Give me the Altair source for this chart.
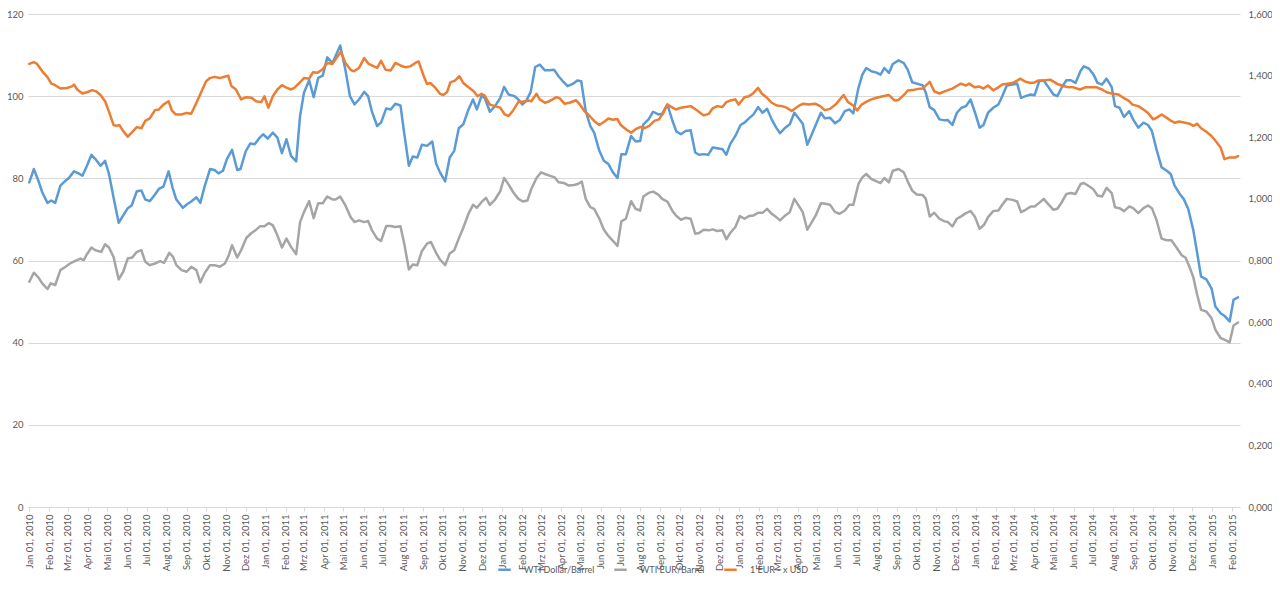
import altair as alt
import pandas as pd

START = "2010-01-01"

# WTI in US dollars per barrel (left axis): days since Jan 1, 2010 / value
usd_days = [0, 7, 14, 20, 28, 34, 40, 48, 56, 61, 69, 76, 82, 89, 96, 102, 110, 117, 123, 130, 138, 145, 152, 158, 166, 173, 179, 186, 194, 200, 207, 215, 221, 227, 237, 243, 250, 258, 264, 271, 279, 286, 292, 299, 305, 313, 321, 326, 334, 341, 348, 355, 361, 368, 376, 383, 390, 397, 404, 412, 418, 424, 432, 439, 446, 453, 460, 468, 480, 488, 495, 502, 509, 517, 523, 529, 537, 543, 551, 558, 565, 573, 579, 586, 592, 599, 606, 614, 622, 628, 634, 642, 649, 656, 663, 670, 678, 685, 691, 698, 703, 711, 719, 727, 733, 740, 749, 755, 761, 767, 774, 781, 788, 796, 803, 810, 817, 825, 831, 839, 846, 852, 859, 866, 872, 880, 887, 894, 901, 908, 914, 921, 929, 936, 943, 948, 956, 963, 971, 977, 985, 993, 999, 1006, 1013, 1021, 1028, 1034, 1041, 1048, 1055, 1062, 1070, 1076, 1082, 1090, 1098, 1104, 1111, 1118, 1125, 1132, 1139, 1146, 1153, 1159, 1167, 1174, 1181, 1187, 1194, 1201, 1208, 1214, 1222, 1228, 1236, 1244, 1251, 1259, 1266, 1272, 1280, 1286, 1292, 1300, 1308, 1314, 1320, 1327, 1333, 1342, 1350, 1356, 1363, 1370, 1379, 1384, 1390, 1397, 1405, 1413, 1418, 1425, 1432, 1439, 1446, 1453, 1460, 1467, 1473, 1480, 1488, 1496, 1502, 1509, 1518, 1525, 1531, 1538, 1546, 1552, 1559, 1566, 1574, 1581, 1587, 1594, 1601, 1608, 1615, 1623, 1628, 1636, 1643, 1649, 1656, 1663, 1671, 1676, 1683, 1690, 1698, 1704, 1712, 1720, 1727, 1733, 1740, 1748, 1756, 1762, 1768, 1776, 1782, 1789, 1797, 1803, 1809, 1817, 1825, 1831, 1839, 1845, 1853, 1859, 1866]
usd_vals = [79.03, 82.26, 79.43, 76.61, 74.03, 74.6, 74.03, 78.22, 79.43, 80.08, 81.69, 81.21, 80.64, 83.06, 85.72, 84.68, 83.06, 84.27, 81.05, 75.4, 69.19, 70.97, 72.74, 73.39, 76.85, 77.02, 74.84, 74.44, 76.05, 77.42, 77.98, 81.69, 77.82, 74.84, 72.82, 73.63, 74.35, 75.4, 74.03, 78.22, 82.26, 82.02, 81.21, 81.85, 84.68, 86.94, 82.02, 82.26, 86.53, 88.47, 88.31, 89.76, 90.73, 89.68, 91.13, 89.92, 86.13, 89.52, 85.48, 84.11, 95.16, 100.81, 103.87, 99.76, 104.44, 105.0, 109.44, 108.06, 112.34, 106.45, 100.0, 97.98, 99.19, 101.05, 100.0, 96.21, 92.74, 93.55, 97.02, 96.77, 98.14, 97.74, 90.73, 83.06, 85.32, 85.08, 88.15, 87.9, 88.95, 83.63, 81.45, 79.27, 85.08, 86.69, 92.18, 93.15, 96.77, 99.19, 96.77, 100.0, 99.6, 96.21, 97.58, 99.6, 102.26, 100.4, 100.0, 99.19, 97.98, 98.79, 101.05, 107.1, 107.66, 106.29, 106.29, 106.45, 104.84, 103.39, 102.42, 102.98, 103.79, 103.63, 96.37, 92.74, 91.13, 86.69, 84.27, 83.47, 81.45, 80.08, 85.89, 85.89, 90.32, 88.95, 89.11, 93.15, 94.35, 96.21, 95.56, 95.72, 97.98, 93.95, 91.37, 90.73, 91.53, 91.69, 86.29, 85.73, 85.89, 85.73, 87.5, 87.34, 87.1, 85.73, 88.31, 90.32, 92.98, 93.55, 94.6, 95.56, 97.34, 95.97, 96.93, 94.35, 92.34, 90.97, 92.34, 93.15, 95.97, 94.76, 93.31, 88.15, 90.73, 92.98, 95.97, 94.6, 94.76, 93.39, 94.19, 96.37, 96.77, 95.81, 102.02, 105.24, 106.85, 106.05, 105.73, 105.24, 106.85, 105.65, 107.82, 108.71, 108.06, 106.45, 103.39, 103.06, 102.66, 100.81, 97.34, 96.61, 94.35, 94.11, 94.19, 92.98, 95.97, 97.18, 97.58, 99.19, 95.97, 92.34, 92.98, 95.97, 97.18, 97.98, 100.0, 102.58, 102.82, 103.06, 99.6, 100.0, 100.4, 100.24, 103.63, 103.79, 102.02, 100.4, 100.0, 102.18, 103.87, 103.87, 103.23, 106.21, 107.26, 106.69, 105.24, 103.23, 102.82, 104.27, 102.18, 97.58, 97.18, 94.92, 96.37, 94.35, 92.34, 93.55, 92.98, 91.53, 87.1, 82.66, 81.85, 81.05, 78.22, 76.21, 75.0, 72.58, 67.34, 61.69, 56.05, 55.4, 53.23, 48.79, 47.18, 46.53, 45.16, 50.4, 51.05]

# WTI in euros per barrel (left axis)
eur_days = [0, 7, 14, 20, 28, 33, 40, 48, 56, 63, 71, 79, 84, 89, 96, 102, 111, 117, 123, 130, 138, 145, 152, 159, 166, 173, 179, 186, 194, 202, 208, 216, 222, 227, 235, 243, 250, 258, 264, 271, 279, 286, 294, 302, 308, 313, 321, 327, 335, 343, 349, 356, 363, 370, 376, 383, 390, 397, 404, 412, 418, 424, 432, 439, 446, 453, 460, 468, 473, 480, 488, 496, 502, 509, 517, 523, 529, 537, 543, 551, 558, 565, 573, 579, 586, 592, 599, 606, 614, 620, 628, 634, 642, 649, 656, 663, 670, 678, 685, 691, 698, 705, 711, 719, 727, 733, 740, 747, 755, 762, 769, 775, 783, 790, 796, 803, 811, 817, 825, 833, 841, 847, 853, 859, 866, 872, 880, 887, 894, 901, 908, 914, 921, 929, 936, 943, 948, 956, 963, 971, 977, 985, 993, 999, 1006, 1013, 1021, 1028, 1034, 1041, 1049, 1055, 1062, 1070, 1076, 1082, 1090, 1097, 1104, 1111, 1118, 1125, 1132, 1139, 1146, 1153, 1159, 1167, 1174, 1181, 1187, 1194, 1201, 1208, 1214, 1222, 1229, 1236, 1244, 1251, 1259, 1266, 1272, 1280, 1286, 1292, 1300, 1308, 1314, 1320, 1327, 1333, 1342, 1350, 1356, 1363, 1370, 1379, 1384, 1390, 1397, 1405, 1413, 1418, 1425, 1432, 1439, 1446, 1453, 1460, 1467, 1474, 1480, 1488, 1496, 1502, 1509, 1518, 1525, 1531, 1538, 1546, 1552, 1559, 1566, 1574, 1581, 1587, 1594, 1601, 1608, 1615, 1623, 1628, 1636, 1643, 1649, 1656, 1663, 1671, 1676, 1683, 1690, 1698, 1704, 1712, 1720, 1727, 1733, 1740, 1748, 1756, 1763, 1771, 1779, 1785, 1791, 1797, 1803, 1809, 1817, 1825, 1831, 1839, 1845, 1853, 1859, 1866]
eur_vals = [54.84, 57.02, 55.89, 54.44, 53.06, 54.44, 54.03, 57.66, 58.47, 59.27, 59.92, 60.48, 60.08, 61.53, 63.15, 62.5, 62.1, 63.95, 63.15, 60.89, 55.4, 57.26, 60.48, 60.73, 62.1, 62.5, 59.68, 58.87, 59.27, 59.84, 59.44, 61.85, 60.89, 58.87, 57.66, 57.26, 58.47, 57.66, 54.68, 57.02, 58.87, 58.87, 58.47, 59.27, 61.29, 63.71, 60.73, 62.5, 65.48, 66.69, 67.34, 68.31, 68.31, 69.11, 68.55, 66.13, 63.15, 65.32, 63.31, 61.53, 69.35, 71.77, 74.44, 70.32, 73.95, 73.95, 75.56, 74.84, 74.84, 75.56, 73.39, 70.56, 69.35, 69.76, 69.35, 69.6, 67.34, 65.32, 64.76, 68.39, 68.39, 68.15, 68.31, 63.95, 57.82, 59.03, 58.87, 62.26, 64.11, 64.52, 61.85, 60.24, 58.87, 61.69, 62.5, 65.32, 67.98, 71.37, 73.55, 72.82, 74.19, 75.24, 73.55, 74.84, 76.85, 80.08, 78.47, 76.61, 75.0, 74.35, 74.6, 77.42, 80.08, 81.45, 81.05, 80.65, 80.24, 79.03, 78.87, 78.23, 78.39, 78.63, 79.19, 75.0, 72.98, 72.58, 70.16, 67.5, 65.97, 64.76, 63.55, 69.52, 70.16, 74.44, 72.58, 72.18, 75.56, 76.45, 76.77, 76.05, 75.0, 74.35, 72.02, 70.81, 69.92, 70.4, 70.16, 66.53, 66.69, 67.5, 67.34, 67.58, 67.18, 67.34, 65.16, 66.69, 68.15, 70.81, 70.16, 70.81, 70.97, 71.61, 71.61, 72.58, 71.37, 70.56, 69.76, 70.97, 71.77, 75.0, 73.55, 71.77, 67.5, 69.35, 70.97, 73.95, 73.79, 73.55, 71.77, 71.37, 72.18, 73.55, 73.55, 78.63, 80.24, 81.05, 79.84, 79.27, 78.87, 80.08, 79.03, 81.85, 82.26, 81.45, 79.27, 77.02, 76.05, 75.97, 75.0, 70.73, 71.61, 70.16, 69.52, 69.35, 68.31, 70.16, 70.81, 71.53, 72.02, 70.56, 67.74, 68.71, 70.56, 72.02, 72.18, 73.55, 75.0, 74.76, 74.35, 71.77, 72.34, 73.15, 73.15, 74.03, 75.0, 73.55, 72.34, 72.58, 74.19, 76.21, 76.45, 76.21, 78.63, 78.87, 78.06, 77.26, 75.81, 75.56, 77.66, 76.37, 72.98, 72.74, 72.02, 73.15, 72.74, 71.53, 72.74, 73.39, 72.74, 69.92, 65.32, 64.92, 64.92, 63.15, 61.29, 60.65, 58.47, 55.89, 51.61, 47.98, 47.58, 45.97, 43.15, 41.13, 40.73, 40.08, 44.19, 44.92]

# 1 EUR in USD (right axis)
fx_days = [0, 7, 12, 20, 28, 34, 40, 48, 58, 66, 69, 74, 82, 89, 97, 103, 110, 117, 123, 130, 135, 139, 145, 152, 158, 166, 173, 179, 186, 194, 200, 207, 215, 220, 226, 235, 243, 250, 258, 266, 273, 279, 286, 294, 304, 307, 312, 319, 327, 335, 343, 350, 358, 363, 369, 376, 383, 390, 396, 404, 409, 417, 424, 432, 438, 445, 453, 460, 468, 481, 488, 496, 501, 509, 517, 524, 532, 537, 543, 550, 558, 565, 573, 581, 588, 596, 601, 609, 614, 619, 627, 634, 639, 645, 650, 657, 664, 670, 678, 686, 692, 698, 703, 711, 719, 727, 734, 740, 747, 755, 762, 770, 775, 783, 788, 796, 803, 814, 819, 826, 834, 844, 849, 857, 865, 872, 880, 888, 894, 901, 908, 913, 921, 929, 936, 944, 949, 957, 965, 972, 978, 985, 993, 998, 1006, 1013, 1021, 1029, 1036, 1041, 1049, 1055, 1062, 1070, 1076, 1082, 1090, 1095, 1104, 1111, 1118, 1125, 1131, 1139, 1146, 1154, 1162, 1169, 1177, 1187, 1195, 1203, 1213, 1221, 1228, 1236, 1246, 1257, 1264, 1272, 1278, 1285, 1292, 1300, 1308, 1318, 1327, 1336, 1342, 1351, 1356, 1364, 1372, 1379, 1390, 1397, 1405, 1413, 1418, 1425, 1433, 1438, 1446, 1451, 1459, 1466, 1473, 1480, 1488, 1496, 1502, 1510, 1518, 1525, 1530, 1538, 1546, 1552, 1557, 1566, 1576, 1587, 1594, 1602, 1612, 1622, 1630, 1639, 1648, 1656, 1663, 1671, 1681, 1689, 1697, 1703, 1712, 1720, 1727, 1735, 1740, 1748, 1756, 1763, 1768, 1775, 1784, 1791, 1797, 1803, 1809, 1817, 1825, 1832, 1839, 1845, 1852, 1861, 1866]
fx_vals = [1.438, 1.444, 1.438, 1.414, 1.395, 1.374, 1.369, 1.358, 1.360, 1.365, 1.371, 1.355, 1.342, 1.346, 1.353, 1.349, 1.337, 1.317, 1.283, 1.240, 1.237, 1.240, 1.220, 1.202, 1.215, 1.233, 1.229, 1.253, 1.261, 1.288, 1.290, 1.306, 1.317, 1.287, 1.274, 1.274, 1.279, 1.276, 1.312, 1.349, 1.382, 1.392, 1.396, 1.392, 1.398, 1.400, 1.366, 1.355, 1.323, 1.330, 1.328, 1.317, 1.314, 1.333, 1.296, 1.333, 1.355, 1.369, 1.362, 1.355, 1.360, 1.376, 1.392, 1.390, 1.411, 1.409, 1.421, 1.441, 1.438, 1.478, 1.441, 1.419, 1.414, 1.425, 1.457, 1.438, 1.430, 1.425, 1.448, 1.419, 1.417, 1.441, 1.433, 1.427, 1.430, 1.441, 1.446, 1.398, 1.373, 1.376, 1.360, 1.341, 1.337, 1.347, 1.378, 1.384, 1.398, 1.376, 1.362, 1.349, 1.333, 1.341, 1.335, 1.306, 1.301, 1.296, 1.274, 1.269, 1.287, 1.315, 1.315, 1.319, 1.317, 1.341, 1.323, 1.312, 1.317, 1.330, 1.326, 1.309, 1.312, 1.320, 1.309, 1.285, 1.269, 1.253, 1.240, 1.251, 1.261, 1.257, 1.259, 1.240, 1.226, 1.215, 1.226, 1.234, 1.229, 1.237, 1.253, 1.258, 1.276, 1.306, 1.296, 1.290, 1.296, 1.298, 1.301, 1.290, 1.279, 1.271, 1.276, 1.294, 1.301, 1.298, 1.314, 1.319, 1.323, 1.306, 1.330, 1.333, 1.344, 1.360, 1.341, 1.328, 1.312, 1.303, 1.301, 1.296, 1.285, 1.301, 1.309, 1.306, 1.309, 1.301, 1.288, 1.292, 1.309, 1.337, 1.314, 1.303, 1.287, 1.306, 1.315, 1.323, 1.328, 1.333, 1.337, 1.319, 1.321, 1.339, 1.352, 1.353, 1.357, 1.358, 1.380, 1.349, 1.342, 1.349, 1.353, 1.358, 1.368, 1.374, 1.368, 1.374, 1.362, 1.365, 1.358, 1.368, 1.352, 1.362, 1.371, 1.374, 1.376, 1.384, 1.390, 1.380, 1.376, 1.378, 1.384, 1.384, 1.387, 1.373, 1.368, 1.363, 1.362, 1.355, 1.362, 1.362, 1.362, 1.355, 1.346, 1.342, 1.339, 1.328, 1.319, 1.306, 1.301, 1.290, 1.279, 1.258, 1.263, 1.274, 1.263, 1.253, 1.247, 1.251, 1.247, 1.244, 1.237, 1.244, 1.229, 1.218, 1.204, 1.186, 1.167, 1.129, 1.134, 1.134, 1.139]

SERIES = ["WTI Dollar/Barrel", "WTI EUR/Barrel", "1 EUR - x USD"]
COLORS = ["#5B9BD5", "#A5A5A5", "#ED7D31"]
MONTHS_DE = ["Jan", "Feb", "Mrz", "Apr", "Mai", "Jun", "Jul", "Aug", "Sep", "Okt", "Nov", "Dez"]
LEFT_TICKS = [0, 20, 40, 60, 80, 100, 120]
RIGHT_TICKS = [0, 0.2, 0.4, 0.6, 0.8, 1.0, 1.2, 1.4, 1.6]


def frame(days, vals, name):
    d = pd.Timestamp(START) + pd.to_timedelta(days, unit="D")
    return pd.DataFrame({"date": d.strftime("%Y-%m-%d"), "value": vals, "series": name})


df = pd.concat([
    frame(usd_days, usd_vals, SERIES[0]),
    frame(eur_days, eur_vals, SERIES[1]),
    frame(fx_days, fx_vals, SERIES[2]),
], ignore_index=True)

month_ticks = [alt.DateTime(year=y, month=m, date=1, utc=True)
               for y in range(2010, 2016) for m in range(1, 13) if y < 2015 or m <= 2]

months_js = "[" + ",".join("'%s'" % m for m in MONTHS_DE) + "]"
x_axis = alt.Axis(
    values=month_ticks,
    labelExpr=months_js + "[utcmonth(datum.value)] + ' 01, ' + utcyear(datum.value)",
    labelAngle=270, labelOverlap=False, labelFontSize=9.5, labelColor="#595959",
    labelPadding=3, tickSize=4, tickColor="#D9D9D9", domainColor="#D9D9D9",
    grid=False, title=None,
)
x_enc = alt.X(
    "date:T",
    scale=alt.Scale(type="utc", domain=[alt.DateTime(year=2009, month=12, date=30, utc=True),
                                        alt.DateTime(year=2015, month=2, date=13, utc=True)]),
    axis=x_axis,
)

color = alt.Color(
    "series:N",
    scale=alt.Scale(domain=SERIES, range=COLORS),
    legend=alt.Legend(
        orient="none", legendX=469, legendY=548, direction="horizontal", title=None,
        symbolType="stroke", symbolSize=156, symbolStrokeWidth=2.5,
        labelFontSize=9, labelColor="#595959", columnPadding=14, labelOffset=12,
        padding=0,
    ),
)

left = alt.Chart(df).transform_filter(
    alt.FieldOneOfPredicate(field="series", oneOf=SERIES[:2])
).mark_line(strokeWidth=2.5, strokeJoin="round", strokeCap="round").encode(
    x=x_enc,
    y=alt.Y("value:Q", scale=alt.Scale(domain=[0, 120]),
            axis=alt.Axis(values=LEFT_TICKS, grid=True, gridColor="#D9D9D9", domain=False,
                          ticks=False, labelColor="#595959", labelFontSize=9.5,
                          labelPadding=5, title=None)),
    color=color,
)

right = alt.Chart(df).transform_filter(
    alt.datum.series == SERIES[2]
).mark_line(strokeWidth=2.5, strokeJoin="round", strokeCap="round").encode(
    x=x_enc,
    y=alt.Y("value:Q", scale=alt.Scale(domain=[0, 1.6]),
            axis=alt.Axis(orient="right", values=RIGHT_TICKS, grid=False, domain=False,
                          ticks=False, labelColor="#595959", labelFontSize=9.5,
                          labelPadding=8, title=None,
                          labelExpr="replace(format(datum.value, '.3f'), '.', ',')")),
    color=color,
)

chart = alt.layer(left, right).resolve_scale(y="independent").properties(
    width=1212, height=493,
    padding={"left": 20, "top": 6, "right": 32, "bottom": 75},
    autosize=alt.AutoSizeParams(type="none"),
).configure(font="Lato").configure_view(stroke=None)

chart.save("out.html", embed_options={"renderer": "svg", "actions": False})
